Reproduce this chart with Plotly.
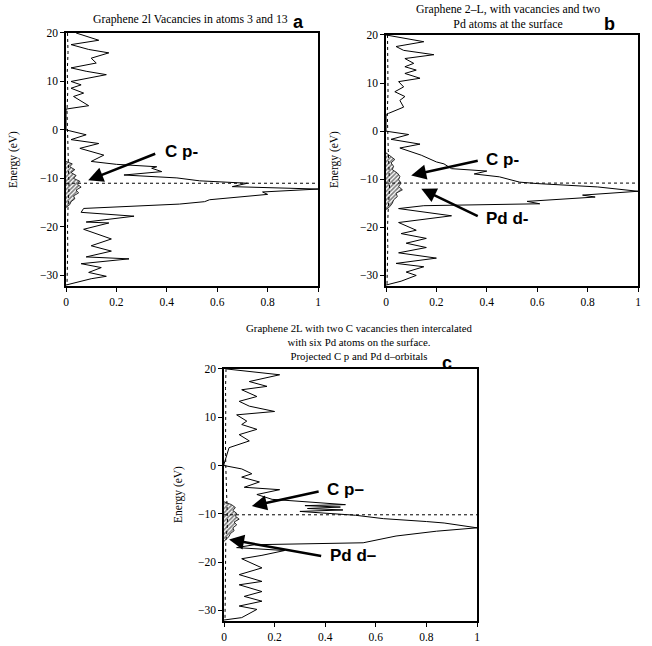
import plotly.graph_objects as go

# ---------------- data ----------------
# Panel a: total DOS (x) versus energy (y), traced top to bottom
a_energy = [20, 18.5, 17.6, 16.6, 15.9, 14.8, 13.8, 12.8, 12.1, 11.4, 10.0, 9.3, 8.6, 7.6, 6.9, 5.0, 4.3,
            0.3, 0.0, -1.0, -2.0, -2.8, -3.8, -5.2, -6.5, -7.1, -7.6, -7.9, -8.6, -9.3, -9.9, -10.5,
            -11.0, -11.7, -12.2, -12.8, -13.3, -14.4, -14.8, -15.3, -16.2, -17.0, -17.8, -19.0, -19.2,
            -20.5, -22.5, -23.9, -25.0, -26.2, -26.6, -27.6, -28.4, -29.4, -30.2, -30.7, -32.0]
a_dos = [0.04, 0.13, 0.02, 0.09, 0.17, 0.10, 0.12, 0.02, 0.08, 0.16, 0.02, 0.06, 0.02, 0.07, 0.03, 0.09, 0.0,
         0.0, 0.0, 0.08, 0.02, 0.13, 0.055, 0.15, 0.10, 0.20, 0.36, 0.34, 0.38, 0.23, 0.44, 0.53,
         0.72, 0.66, 1.0, 0.78, 0.80, 0.57, 0.55, 0.45, 0.07, 0.06, 0.27, 0.08, 0.17,
         0.07, 0.18, 0.10, 0.18, 0.08, 0.25, 0.06, 0.14, 0.09, 0.16, 0.10, 0.0]
a_hatch_energy = [-6.5, -7.0, -7.6, -8.2, -8.8, -9.4, -10.0, -10.6, -11.2, -11.8, -12.4, -13.0, -13.6, -14.2,
                  -14.8, -15.4, -16.0]
a_hatch_dos = [0.0, 0.025, 0.015, 0.035, 0.02, 0.04, 0.03, 0.055, 0.045, 0.06, 0.04, 0.05, 0.03, 0.035,
               0.02, 0.015, 0.0]

# Panel b
b_energy = [20, 19.3, 18.6, 17.6, 16.8, 15.9, 15.1, 14.1, 13.4, 12.7, 12.0, 11.0, 10.3, 9.2, 8.2, 7.2,
            6.4, 5.0, 3.7, 3.3, 0.0, -0.7, -1.7, -2.7, -3.5, -5.0, -6.4, -6.8, -7.8, -8.3, -8.9,
            -9.5, -10.6, -10.9, -11.6, -12.5, -13.3, -13.7, -14.3, -14.6, -15.1, -15.5, -16.1, -17.1,
            -17.6, -19.0, -20.6, -21.3, -22.3, -23.3, -24.2, -25.3, -26.4, -27.5, -28.2, -29.3, -30.0,
            -31.2, -32.0]
b_dos = [0.0, 0.075, 0.15, 0.04, 0.07, 0.19, 0.075, 0.11, 0.075, 0.12, 0.075, 0.135, 0.05, 0.07, 0.035,
         0.075, 0.055, 0.07, 0.01, 0.0, 0.0, 0.09, 0.02, 0.135, 0.055, 0.14, 0.20, 0.23, 0.26, 0.40,
         0.35, 0.45, 0.53, 0.60, 0.84, 1.0, 0.78, 0.83, 0.66, 0.56, 0.61, 0.15, 0.05, 0.19,
         0.26, 0.05, 0.12, 0.06, 0.16, 0.08, 0.16, 0.05, 0.20, 0.04, 0.15, 0.08, 0.12, 0.06, 0.0]
b_hatch_energy = [-4.5, -5.2, -5.9, -6.6, -7.3, -8.0, -8.7, -9.4, -10.1, -10.8, -11.5, -12.2, -12.9,
                  -13.6, -14.3, -15.0, -15.7, -16.3]
b_hatch_dos = [0.0, 0.02, 0.035, 0.02, 0.03, 0.025, 0.045, 0.055, 0.05, 0.06, 0.05, 0.065, 0.04, 0.045,
               0.03, 0.025, 0.015, 0.0]

# Panel c
c_energy = [20, 18.8, 17.4, 16.4, 15.7, 14.3, 13.3, 12.3, 11.2, 10.5, 9.2, 8.5, 7.5, 6.4, 5.1, 3.7,
            0.3, 0.0, -0.7, -1.7, -2.4, -3.4, -4.5, -5.0, -6.0, -7.0, -8.1, -8.3, -8.6, -8.9, -9.2,
            -9.5, -10.3, -11.0, -11.6, -11.9, -12.9, -13.6, -14.6, -16.0, -16.4, -17.0, -17.6, -18.6,
            -19.3, -21.2, -22.6, -24.0, -24.7, -26.1, -27.1, -28.1, -29.1, -29.8, -31.5, -32.0]
c_dos = [0.01, 0.22, 0.10, 0.17, 0.07, 0.13, 0.06, 0.10, 0.20, 0.05, 0.09, 0.07, 0.13, 0.06, 0.10, 0.02,
         0.0, 0.0, 0.07, 0.11, 0.07, 0.14, 0.08, 0.22, 0.13, 0.19, 0.48, 0.32, 0.46, 0.33, 0.47,
         0.30, 0.52, 0.63, 0.80, 0.87, 1.0, 0.84, 0.68, 0.55, 0.12, 0.05, 0.24, 0.15,
         0.07, 0.15, 0.06, 0.15, 0.06, 0.15, 0.08, 0.15, 0.06, 0.13, 0.07, 0.0]
c_hatch_energy = [-7.5, -8.1, -8.7, -9.3, -9.9, -10.5, -11.1, -11.7, -12.3, -12.9, -13.5, -14.1, -14.7,
                  -15.3, -15.7]
c_hatch_dos = [0.0, 0.03, 0.045, 0.035, 0.05, 0.045, 0.06, 0.04, 0.05, 0.035, 0.04, 0.025, 0.02, 0.01, 0.0]

# small projected DOS drawn dotted along the axis
minor_energy = [20, 16, 12, 8, 4, 0, -4, -8, -12, -16, -20, -24, -28, -32]
a_minor = [0.006, 0.008, 0.005, 0.007, 0.004, 0.006, 0.008, 0.012, 0.012, 0.008, 0.006, 0.007, 0.006, 0.004]
b_minor = [0.006, 0.007, 0.005, 0.008, 0.005, 0.006, 0.009, 0.012, 0.014, 0.009, 0.006, 0.007, 0.006, 0.004]
c_minor = [0.008, 0.006, 0.007, 0.005, 0.006, 0.007, 0.009, 0.012, 0.014, 0.007, 0.006, 0.007, 0.006, 0.004]

fermi_levels = [-11.0, -10.8, -10.2]

x_ticks = [0, 0.2, 0.4, 0.6, 0.8, 1]
x_tick_labels = ["0", "0.2", "0.4", "0.6", "0.8", "1"]
y_ticks = [-30, -20, -10, 0, 10, 20]

titles = [
    "Graphene 2l Vacancies in atoms 3 and 13",
    "Graphene 2–L, with vacancies and two<br>Pd atoms at the surface",
    "Graphene 2L with two C vacancies then intercalated<br>with six Pd atoms on the surface.<br>Projected C p and Pd d–orbitals",
]
letters = ["a", "b", "c"]

# ---------------- figure ----------------
W, H = 652, 646
SERIF = "Liberation Serif, Times New Roman, serif"
SANS = "Liberation Sans, Arial, sans-serif"

panels = [
    dict(energy=a_energy, dos=a_dos, he=a_hatch_energy, hd=a_hatch_dos, minor=a_minor,
         px=(66, 318), py=(32.5, 286)),
    dict(energy=b_energy, dos=b_dos, he=b_hatch_energy, hd=b_hatch_dos, minor=b_minor,
         px=(386, 638), py=(34.5, 286)),
    dict(energy=c_energy, dos=c_dos, he=c_hatch_energy, hd=c_hatch_dos, minor=c_minor,
         px=(224, 477), py=(368.5, 621)),
]

fig = go.Figure()
layout = dict(width=W, height=H, margin=dict(l=0, r=0, t=0, b=0, autoexpand=False),
              paper_bgcolor="white", plot_bgcolor="white", showlegend=False)

annotations = []
for i, p in enumerate(panels):
    sfx = "" if i == 0 else str(i + 1)
    xa, ya = "x" + sfx, "y" + sfx
    # hatched region
    fig.add_trace(go.Scatter(x=p["hd"], y=p["he"], mode="lines", xaxis=xa, yaxis=ya,
                             line=dict(color="black", width=0.8), fill="tozerox",
                             fillcolor="rgba(0,0,0,0)",
                             fillpattern=dict(shape="/", fgcolor="black", bgcolor="white",
                                              size=3, solidity=0.55)))
    # dotted minor DOS
    fig.add_trace(go.Scatter(x=p["minor"], y=minor_energy, mode="lines", xaxis=xa, yaxis=ya,
                             line=dict(color="black", width=1, dash="dot")))
    # main DOS
    fig.add_trace(go.Scatter(x=p["dos"], y=p["energy"], mode="lines", xaxis=xa, yaxis=ya,
                             line=dict(color="black", width=1)))
    # Fermi level
    fig.add_trace(go.Scatter(x=[0, 1], y=[fermi_levels[i]] * 2, mode="lines", xaxis=xa, yaxis=ya,
                             line=dict(color="black", width=1, dash="dot")))

    xd = [p["px"][0] / W, p["px"][1] / W]
    yd = [1 - p["py"][1] / H, 1 - p["py"][0] / H]
    layout["xaxis" + sfx] = dict(domain=xd, range=[0, 1], tickvals=x_ticks, ticktext=x_tick_labels,
                                 anchor=ya, showline=True, mirror=True, linecolor="black", linewidth=1.5,
                                 ticks="outside", ticklen=4, tickcolor="black", showgrid=False,
                                 zeroline=False, automargin=False,
                                 tickfont=dict(family=SERIF, size=11.5, color="black"))
    layout["yaxis" + sfx] = dict(domain=yd, range=[-32.2, 20.1], tickvals=y_ticks,
                                 anchor=xa, showline=True, mirror=True, linecolor="black", linewidth=1.5,
                                 ticks="outside", ticklen=4, tickcolor="black", showgrid=False,
                                 zeroline=False, automargin=False,
                                 tickfont=dict(family=SERIF, size=11.5, color="black"))

# titles and letters (pixel centres)
title_pos = [(191, 19), (508, 17), (359, 342)]
title_sizes = [11.8, 11.8, 10.8]
letter_pos = [(298, 22), (609, 24), (447, 363)]
label_pos = [(14, 160), (335, 160), (178, 495)]
for i in range(3):
    annotations.append(dict(text=titles[i], x=title_pos[i][0] / W, y=1 - title_pos[i][1] / H,
                            xref="paper", yref="paper", showarrow=False,
                            xanchor="center", yanchor="middle",
                            font=dict(family=SERIF, size=title_sizes[i], color="black")))
    annotations.append(dict(text="<b>" + letters[i] + "</b>", x=letter_pos[i][0] / W,
                            y=1 - letter_pos[i][1] / H, xref="paper", yref="paper", showarrow=False,
                            xanchor="center", yanchor="middle",
                            font=dict(family=SANS, size=18, color="black")))
    annotations.append(dict(text="Energy (eV)", x=label_pos[i][0] / W, y=1 - label_pos[i][1] / H,
                            xref="paper", yref="paper", showarrow=False, textangle=-90,
                            xanchor="center", yanchor="middle",
                            font=dict(family=SERIF, size=11.5, color="black")))

# arrows (tip, tail) and labels in data coordinates of each panel
arrow_specs = [
    (0, "C p-", (0.088, -10.4), (0.36, -4.8), (0.385, -4.5)),
    (1, "C p-", (0.10, -9.2), (0.37, -6.1), (0.39, -5.8)),
    (1, "Pd d-", (0.14, -12.0), (0.37, -17.8), (0.39, -18.2)),
    (2, "C p–", (0.11, -8.4), (0.38, -5.3), (0.40, -5.0)),
    (2, "Pd d–", (0.02, -15.3), (0.39, -18.8), (0.41, -18.6)),
]
for (i, lab, tip, tail, tpos) in arrow_specs:
    sfx = "" if i == 0 else str(i + 1)
    annotations.append(dict(x=tip[0], y=tip[1], ax=tail[0], ay=tail[1], xref="x" + sfx, yref="y" + sfx,
                            axref="x" + sfx, ayref="y" + sfx, text="", showarrow=True, arrowhead=2,
                            arrowsize=1.2, arrowwidth=2.5, arrowcolor="black"))
    annotations.append(dict(x=tpos[0], y=tpos[1], xref="x" + sfx, yref="y" + sfx, text="<b>" + lab + "</b>",
                            showarrow=False, xanchor="left", yanchor="middle",
                            font=dict(family=SANS, size=17, color="black")))

layout["annotations"] = annotations
fig.update_layout(**layout)
fig.write_html("out.html")
